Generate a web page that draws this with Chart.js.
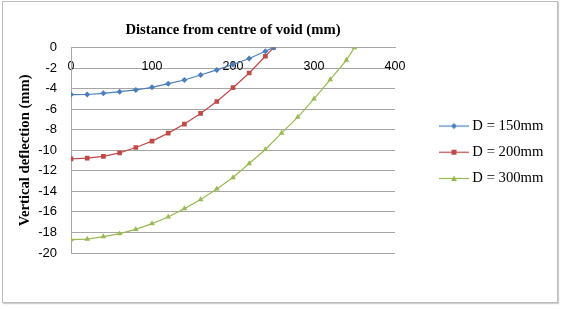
<!DOCTYPE html>
<html>
<head>
<meta charset="utf-8">
<script src="https://cdn.jsdelivr.net/npm/chart.js@4/dist/chart.umd.min.js"></script>
<style>
  html, body { margin: 0; padding: 0; background: #fff; }
  #frame { position: absolute; left: 2px; top: 1px; width: 556px; height: 302px; box-sizing: border-box; border: 1px solid #bdbdbd; box-shadow: 1px 1px 1px #d0d0d0; }
  #c { position: absolute; left: 0; top: 0; }
</style>
</head>
<body>
<div id="frame"></div>
<canvas id="c" width="562" height="309"></canvas>
<script>
// ---- data ----
const chartTitle = 'Distance from centre of void (mm)';
const yAxisTitle = 'Vertical deflection (mm)';
const seriesNames = ['D = 150mm', 'D = 200mm', 'D = 300mm'];

const x150 = [0, 20, 40, 60, 80, 100, 120, 140, 160, 180, 200, 220, 240, 250];
const y150 = [-4.58, -4.57, -4.46, -4.30, -4.13, -3.87, -3.52, -3.16, -2.67, -2.18, -1.65, -1.07, -0.36, 0];

const x200 = [0, 20, 40, 60, 80, 100, 120, 140, 160, 180, 200, 220, 240, 250];
const y200 = [-10.83, -10.77, -10.60, -10.25, -9.73, -9.11, -8.33, -7.45, -6.41, -5.25, -3.91, -2.48, -0.85, 0];

const x300 = [0, 20, 40, 60, 80, 100, 120, 140, 160, 180, 200, 220, 240, 260, 280, 300, 320, 340, 350];
const y300 = [-18.70, -18.64, -18.41, -18.12, -17.70, -17.14, -16.49, -15.68, -14.80, -13.76, -12.65, -11.29, -9.92, -8.33, -6.77, -5.00, -3.12, -1.22, 0];

const xTicks = [0, 100, 200, 300, 400];
const yTicks = [0, -2, -4, -6, -8, -10, -12, -14, -16, -18, -20];

// ---- styling ----
const colors = ['#4a7ebb', '#be4b48', '#98b954'];
const styles = ['rectRot', 'rect', 'triangle'];
const radii = [3, 3.3, 3.3];

function pts(xs, ys) { return xs.map((x, i) => ({ x: x, y: ys[i] })); }

function legendIcon(color, style) {
  const cv = document.createElement('canvas');
  cv.width = 30; cv.height = 9;
  const g = cv.getContext('2d');
  g.strokeStyle = color; g.lineWidth = 1.2;
  g.beginPath(); g.moveTo(0, 4.5); g.lineTo(30, 4.5); g.stroke();
  g.fillStyle = color;
  g.beginPath();
  if (style === 'rectRot') { g.moveTo(15, 1.5); g.lineTo(18, 4.5); g.lineTo(15, 7.5); g.lineTo(12, 4.5); g.closePath(); }
  else if (style === 'rect') { g.rect(12.5, 2, 5, 5); }
  else { g.moveTo(15, 1.5); g.lineTo(18, 7); g.lineTo(12, 7); g.closePath(); }
  g.fill();
  return cv;
}
const icons = colors.map((c, i) => legendIcon(c, styles[i]));

const datasets = [
  { label: seriesNames[0], data: pts(x150, y150) },
  { label: seriesNames[1], data: pts(x200, y200) },
  { label: seriesNames[2], data: pts(x300, y300) }
].map((d, i) => Object.assign(d, {
  showLine: true,
  borderColor: colors[i],
  backgroundColor: colors[i],
  borderWidth: 1.2,
  pointStyle: styles[i],
  pointRadius: radii[i],
  pointBorderWidth: 0,
  pointBackgroundColor: colors[i],
  tension: 0
}));

const gridColor = '#a6a6a6';

new Chart(document.getElementById('c'), {
  type: 'scatter',
  data: { datasets: datasets },
  options: {
    responsive: false,
    animation: false,
    devicePixelRatio: 1,
    layout: { padding: { left: 0, right: 12.5, top: 0, bottom: 4.5 } },
    scales: {
      x: {
        type: 'linear',
        position: { y: 0 },
        min: xTicks[0], max: xTicks[xTicks.length - 1],
        afterBuildTicks: (s) => { s.ticks = xTicks.map(v => ({ value: v })); },
        grid: { display: false, drawTicks: false },
        border: { display: true, color: gridColor, width: 1 },
        ticks: { padding: 12, color: '#000', font: { family: 'Liberation Sans', size: 12.5 }, maxRotation: 0 }
      },
      y: {
        type: 'linear',
        position: 'left',
        min: -20, max: 0,
        afterBuildTicks: (s) => { s.ticks = yTicks.slice().reverse().map(v => ({ value: v })); },
        afterFit: (s) => { s.width = 71; },
        grid: { color: gridColor, lineWidth: 1, drawTicks: false },
        border: { display: true, color: gridColor, width: 1 },
        ticks: { padding: 14, color: '#000', font: { family: 'Liberation Sans', size: 13 } },
        title: {
          display: true, text: yAxisTitle, color: '#000',
          font: { family: 'Liberation Serif', size: 14.7, weight: 'bold', lineHeight: 1.2 },
          padding: { top: 16.2, bottom: 0 }
        }
      },
      spacer: {
        type: 'linear',
        position: 'right',
        display: true,
        afterFit: (s) => { s.width = 36.5; },
        grid: { display: false, drawTicks: false },
        border: { display: false },
        ticks: { display: false }
      },
      spacerBottom: {
        type: 'linear',
        position: 'bottom',
        display: true,
        afterFit: (s) => { s.height = 51.5; },
        grid: { display: false, drawTicks: false },
        border: { display: false },
        ticks: { display: false }
      }
    },
    plugins: {
      title: {
        display: true, text: chartTitle, color: '#000', fullSize: false,
        font: { family: 'Liberation Serif', size: 14.7, weight: 'bold', lineHeight: 1.2 },
        padding: { top: 21.5, bottom: 8.4 }
      },
      legend: {
        display: true,
        position: 'right',
        fullSize: true,
        maxWidth: 118,
        labels: {
          usePointStyle: true,
          pointStyleWidth: 22,
          padding: 11.5,
          color: '#000',
          font: { family: 'Liberation Serif', size: 14.7 },
          generateLabels: (chart) => {
            const items = Chart.defaults.plugins.legend.labels.generateLabels(chart);
            items.forEach((it) => { it.pointStyle = icons[it.datasetIndex]; it.lineWidth = 0; });
            return items;
          }
        }
      },
      tooltip: { enabled: false }
    }
  }
});
</script>
</body>
</html>
